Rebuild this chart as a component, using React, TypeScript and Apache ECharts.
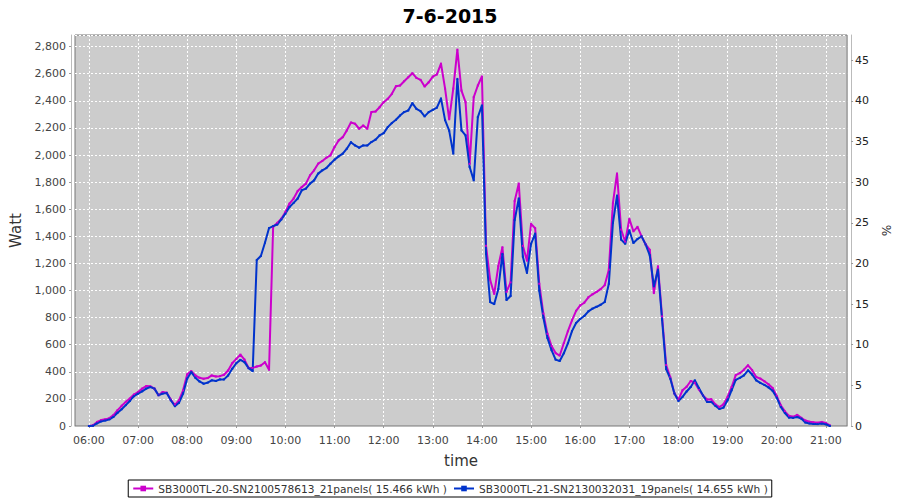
import React, { useEffect, useRef } from "react";
import * as echarts from "echarts";

const TITLE = "7-6-2015";
const SERIES_NAMES = [
  "SB3000TL-20-SN2100578613_21panels( 15.466 kWh )",
  "SB3000TL-21-SN2130032031_19panels( 14.655 kWh )",
];
const START_MIN = 360; // 06:00
const STEP_MIN = 5;
const HOUR_TICKS = [360, 420, 480, 540, 600, 660, 720, 780, 840, 900, 960, 1020, 1080, 1140, 1200, 1260];

// 5-minute readings, one row per hour (06:00 ... 21:05)
const panels21 = [
  0, 5, 30, 44, 49, 58, 80, 117, 149, 178, 203, 232,
  251, 276, 295, 293, 276, 227, 251, 246, 195, 154, 190, 263,
  381, 405, 373, 356, 349, 354, 373, 366, 368, 378, 410, 463,
  495, 527, 490, 429, 429, 439, 447, 471, 415, 1470, 1499, 1530,
  1580, 1642, 1679, 1735, 1764, 1789, 1850, 1887, 1936, 1956, 1980, 1998,
  2059, 2108, 2132, 2182, 2240, 2231, 2194, 2218, 2194, 2317, 2321, 2353,
  2390, 2415, 2452, 2508, 2513, 2545, 2574, 2604, 2569, 2555, 2506, 2537,
  2579, 2595, 2675, 2490, 2264, 2490, 2778, 2476, 2390, 1935, 2427, 2513,
  2580, 1330, 1080, 975, 1180, 1320, 990, 1060, 1660, 1790, 1330, 1220,
  1492, 1460, 1050, 830, 680, 590, 538, 520, 611, 700, 780, 850,
  890, 910, 950, 972, 990, 1010, 1040, 1154, 1647, 1864, 1450, 1360,
  1529, 1437, 1470, 1400, 1340, 1300, 981, 1179, 809, 450, 360, 241,
  195, 264, 290, 332, 320, 270, 225, 195, 198, 160, 140, 160,
  215, 288, 376, 390, 416, 448, 412, 362, 350, 330, 308, 280,
  222, 153, 108, 75, 68, 82, 60, 40, 32, 27, 24, 30,
  22, 5,
];
const panels19 = [
  0, 2, 20, 34, 41, 49, 68, 98, 124, 154, 185, 220,
  239, 256, 276, 288, 276, 227, 239, 244, 190, 146, 171, 239,
  349, 398, 356, 329, 312, 320, 337, 332, 344, 344, 373, 422,
  463, 488, 471, 427, 405, 1225, 1255, 1353, 1461, 1475, 1487, 1525,
  1568, 1617, 1647, 1679, 1740, 1752, 1789, 1813, 1863, 1887, 1904, 1936,
  1966, 1990, 2010, 2047, 2095, 2071, 2054, 2071, 2071, 2096, 2113, 2145,
  2162, 2206, 2236, 2260, 2292, 2317, 2329, 2383, 2341, 2324, 2285, 2317,
  2334, 2350, 2418, 2258, 2180, 2010, 2562, 2182, 2145, 1912, 1813, 2280,
  2366, 1271, 915, 900, 1010, 1270, 930, 960, 1520, 1680, 1250, 1130,
  1345, 1420, 1000, 800, 650, 560, 490, 480, 537, 610, 700, 760,
  790, 812, 846, 866, 880, 895, 915, 1050, 1500, 1701, 1376, 1345,
  1445, 1351, 1380, 1400, 1339, 1260, 1031, 1154, 784, 420, 350, 241,
  185, 215, 255, 288, 337, 280, 225, 178, 178, 150, 126, 136,
  190, 264, 340, 355, 374, 411, 380, 337, 318, 303, 285, 260,
  210, 141, 96, 62, 60, 66, 55, 26, 19, 15, 14, 18,
  13, 0,
];

const COLORS = ["#cc00cc", "#0033cc"];
const FONT = "DejaVu Sans";

function fmtTime(v: number): string {
  const h = Math.floor(v / 60);
  const m = Math.round(v - h * 60);
  return String(h).padStart(2, "0") + ":" + String(m).padStart(2, "0");
}

export default function App() {
  const ref = useRef<HTMLDivElement>(null);
  useEffect(() => {
    if (!ref.current) return;
    const chart = echarts.init(ref.current, null, { renderer: "svg" });
    const toPairs = (arr: number[]) => arr.map((v, i) => [START_MIN + i * STEP_MIN, v]);
    chart.setOption({
      animation: false,
      backgroundColor: "#ffffff",
      title: {
        text: TITLE,
        left: "center",
        top: 1,
        textStyle: { fontFamily: FONT, fontSize: 19, fontWeight: "bold", color: "#000" },
      },
      legend: {
        bottom: 3,
        left: "center",
        data: SERIES_NAMES,
        borderColor: "#000",
        borderWidth: 1,
        padding: [3, 4, 3, 4],
        itemGap: 6,
        itemWidth: 20,
        itemHeight: 7,
        textStyle: { fontFamily: FONT, fontSize: 10.6, color: "#333" },
      },
      grid: {
        left: 75,
        top: 35,
        width: 773,
        height: 391,
        show: true,
        backgroundColor: "#cccccc",
        borderColor: "#777777",
        borderWidth: 1,
      },
      xAxis: {
        type: "value",
        min: 343,
        max: 1286,
        offset: 4,
        name: "time",
        nameLocation: "middle",
        nameGap: 23,
        nameTextStyle: { fontFamily: FONT, fontSize: 15, color: "#333" },
        axisLine: { show: true, lineStyle: { color: "#bbbbbb" } },
        axisTick: { show: true, length: 2, customValues: HOUR_TICKS, lineStyle: { color: "#999" } },
        axisLabel: {
          customValues: HOUR_TICKS,
          formatter: (v: number) => fmtTime(v),
          fontFamily: FONT,
          fontSize: 11,
          color: "#444",
          margin: 5,
        },
        splitLine: { show: true, lineStyle: { color: "#ffffff", type: [2, 2], width: 1 } },
      },
      yAxis: [
        {
          type: "value",
          min: 0,
          max: 2886,
          interval: 200,
          offset: 4,
          name: "Watt",
          nameLocation: "middle",
          nameGap: 40,
          nameTextStyle: { fontFamily: FONT, fontSize: 15, color: "#333" },
          axisLine: { show: true, lineStyle: { color: "#bbbbbb" } },
          axisTick: { show: true, length: 2, lineStyle: { color: "#999" } },
          axisLabel: {
            showMaxLabel: false,
            fontFamily: FONT,
            fontSize: 11,
            color: "#444",
            margin: 5,
            formatter: (v: number) => v.toLocaleString("en-US"),
          },
          splitLine: { show: true, lineStyle: { color: "#ffffff", type: [2, 2], width: 1 } },
        },
        {
          type: "value",
          position: "right",
          min: 0,
          max: 48.1,
          interval: 5,
          offset: 4,
          name: "%",
          nameLocation: "middle",
          nameGap: 26,
          nameRotate: -90,
          nameTextStyle: { fontFamily: FONT, fontSize: 12, color: "#333" },
          axisLine: { show: true, lineStyle: { color: "#bbbbbb" } },
          axisTick: { show: true, length: 2, lineStyle: { color: "#999" } },
          axisLabel: { showMaxLabel: false, fontFamily: FONT, fontSize: 11, color: "#222", margin: 4 },
          splitLine: { show: false },
        },
      ],
      series: [
        {
          name: SERIES_NAMES[0],
          type: "line",
          data: toPairs(panels21),
          color: COLORS[0],
          symbol: "rect",
          symbolSize: 2,
          showSymbol: true,
          lineStyle: { width: 2 },
        },
        {
          name: SERIES_NAMES[1],
          type: "line",
          data: toPairs(panels19),
          color: COLORS[1],
          symbol: "rect",
          symbolSize: 2,
          showSymbol: true,
          lineStyle: { width: 2 },
        },
      ],
    });
    return () => chart.dispose();
  }, []);
  return (
    <div
      ref={ref}
      style={{ position: "fixed", left: 0, top: 0, width: 900, height: 500 }}
    />
  );
}
